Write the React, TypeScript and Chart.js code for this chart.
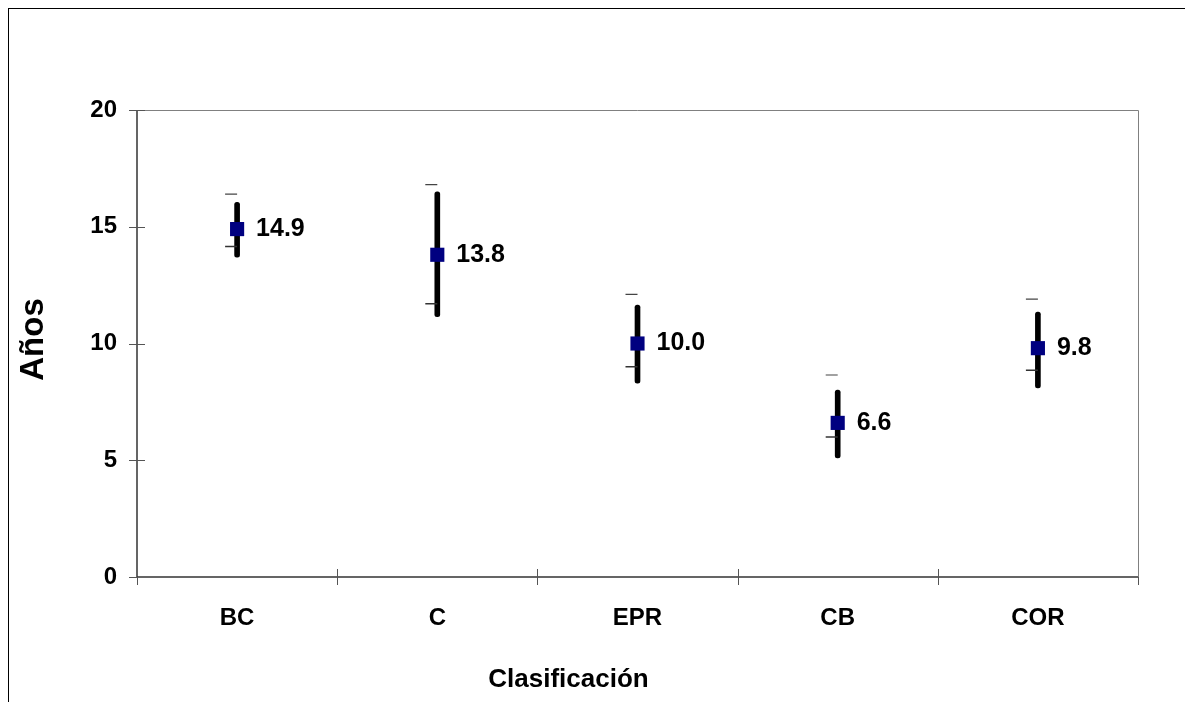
import React, { useEffect, useRef } from "react";
import { Chart, registerables } from "chart.js";

Chart.register(...registerables);

const categories = ["BC", "C", "EPR", "CB", "COR"];
const meanValues = [14.9, 13.8, 10.0, 6.6, 9.8];
const rangeLow = [13.7, 11.15, 8.3, 5.1, 8.1];
const rangeHigh = [16.05, 16.5, 11.65, 8.0, 11.35];
const upperTick = [16.4, 16.8, 12.1, 8.65, 11.9];
const lowerTick = [14.15, 11.7, 9.0, 6.0, 8.85];
const yTickValues = [0, 5, 10, 15, 20];
const yTitle = "Años";
const xTitle = "Clasificación";

const FONT = "'Liberation Sans', Arial, Helvetica, sans-serif";

const framePlugin = {
  id: "frame",
  beforeDatasetsDraw(chart: any) {
    const { ctx, chartArea, scales } = chart;
    const { left, right, top, bottom } = chartArea;
    const x = scales.x;
    const y = scales.y;
    ctx.save();
    ctx.strokeStyle = "#808080";
    ctx.lineWidth = 1;
    ctx.beginPath();
    ctx.moveTo(left, Math.round(top) + 0.5);
    ctx.lineTo(Math.round(right) + 0.5, Math.round(top) + 0.5);
    ctx.lineTo(Math.round(right) + 0.5, bottom);
    ctx.stroke();
    ctx.strokeStyle = "#333333";
    ctx.lineWidth = 1.5;
    ctx.beginPath();
    ctx.moveTo(left, top);
    ctx.lineTo(left, bottom);
    ctx.lineTo(right, bottom);
    ctx.stroke();
    ctx.strokeStyle = "#555555";
    ctx.lineWidth = 1;
    ctx.beginPath();
    yTickValues.forEach((v) => {
      const py = Math.round(y.getPixelForValue(v)) + 0.5;
      ctx.moveTo(left - 8, py);
      ctx.lineTo(v === 0 ? left : left + 8, py);
    });
    const n = categories.length;
    for (let i = 0; i <= n; i++) {
      let px;
      if (i === 0) px = left;
      else if (i === n) px = right;
      else px = (x.getPixelForValue(i - 1) + x.getPixelForValue(i)) / 2;
      px = Math.round(px) + 0.5;
      ctx.moveTo(px, i === 0 || i === n ? bottom : bottom - 8);
      ctx.lineTo(px, bottom + 8);
    }
    ctx.stroke();
    ctx.restore();
  },
  afterDatasetsDraw(chart: any) {
    const { ctx, chartArea } = chart;
    const meta = chart.getDatasetMeta(0);
    ctx.save();
    ctx.fillStyle = "#000";
    ctx.font = `bold 25px ${FONT}`;
    ctx.textAlign = "left";
    ctx.textBaseline = "middle";
    meta.data.forEach((el: any, i: number) => {
      ctx.fillText(meanValues[i].toFixed(1), el.x + 19, el.y);
    });
    ctx.font = `bold 33px ${FONT}`;
    ctx.textAlign = "center";
    ctx.save();
    ctx.translate(25, (chartArea.top + chartArea.bottom) / 2 - 4);
    ctx.rotate(-Math.PI / 2);
    ctx.fillText(yTitle, 0, 0);
    ctx.restore();
    ctx.font = `bold 26px ${FONT}`;
    ctx.fillText(xTitle, (chartArea.left + chartArea.right) / 2 - 69, chartArea.bottom + 103);
    ctx.restore();
  },
};

export default function App() {
  const ref = useRef<HTMLCanvasElement | null>(null);

  useEffect(() => {
    document.documentElement.style.overflow = "hidden";
    if (!ref.current) return;
    const tickFont = { family: FONT, size: 24, weight: "bold" as const };
    const chart = new Chart(ref.current, {
      type: "bar",
      data: {
        labels: categories,
        datasets: [
          {
            type: "line",
            data: meanValues,
            showLine: false,
            pointStyle: "rect",
            pointRadius: 10,
            pointHoverRadius: 10,
            backgroundColor: "#000080",
            borderColor: "#000080",
            borderWidth: 0,
            order: 0,
          } as any,
          {
            type: "line",
            data: upperTick,
            showLine: false,
            pointStyle: "dash",
            pointRotation: 180,
            pointRadius: 12,
            pointHoverRadius: 12,
            borderColor: "#444444",
            borderWidth: 1.2,
            order: 1,
          } as any,
          {
            type: "line",
            data: lowerTick,
            showLine: false,
            pointStyle: "dash",
            pointRotation: 180,
            pointRadius: 12,
            pointHoverRadius: 12,
            borderColor: "#333333",
            borderWidth: 1.5,
            order: 1,
          } as any,
          {
            type: "bar",
            data: categories.map((_, i) => [rangeLow[i], rangeHigh[i]]),
            backgroundColor: "#000000",
            borderWidth: 0,
            barThickness: 5,
            borderRadius: 2.5,
            borderSkipped: false,
            order: 2,
          } as any,
        ],
      },
      options: {
        responsive: false,
        animation: false,
        devicePixelRatio: 1,
        layout: { padding: { left: 0, top: 101, right: 39, bottom: 0 } },
        plugins: { legend: { display: false }, tooltip: { enabled: false } },
        events: [],
        scales: {
          x: {
            type: "category",
            offset: true,
            grid: { display: false, drawTicks: false },
            border: { display: false },
            ticks: { font: tickFont, color: "#000", padding: 27, maxRotation: 0 },
            afterFit: (s: any) => {
              s.height = 117;
            },
          },
          y: {
            min: 0,
            max: 20,
            grid: { display: false, drawTicks: false },
            border: { display: false },
            ticks: { font: tickFont, color: "#000", padding: 20, stepSize: 5 },
            afterBuildTicks: (s: any) => {
              s.ticks = yTickValues.map((v) => ({ value: v }));
            },
            afterFit: (s: any) => {
              s.width = 128;
            },
          },
        },
      } as any,
      plugins: [framePlugin],
    });
    return () => chart.destroy();
  }, []);

  return (
    <div style={{ position: "relative", width: 1168, height: 685, paddingTop: 1, paddingLeft: 1 }}>
      <div
        style={{
          position: "fixed",
          left: 8,
          top: 8,
          right: -20,
          bottom: -20,
          border: "1px solid #000",
          pointerEvents: "none",
        }}
      />
      <canvas ref={ref} width={1168} height={685} style={{ display: "block" }} />
    </div>
  );
}
